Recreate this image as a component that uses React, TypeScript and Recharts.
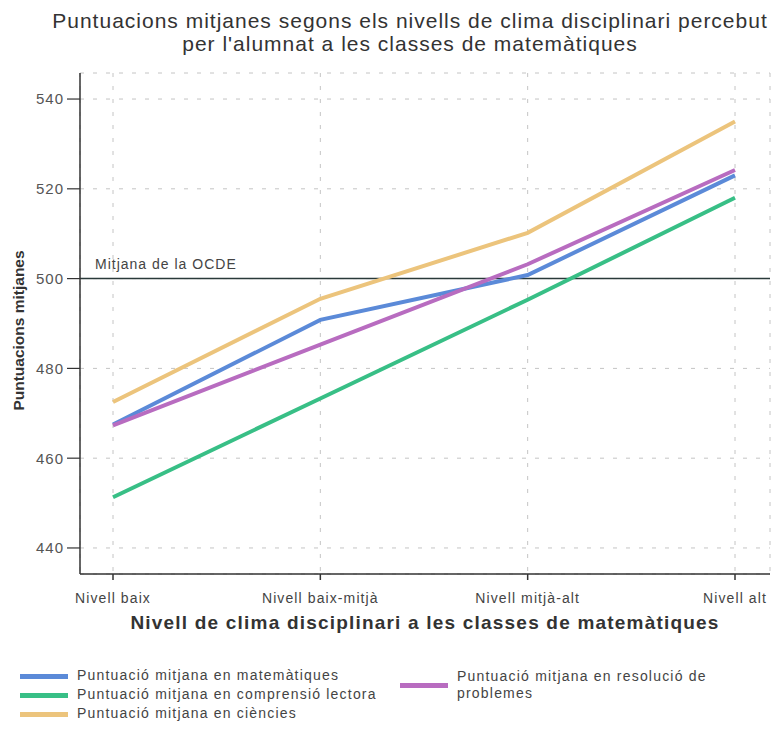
import { LineChart, Line, XAxis, YAxis, CartesianGrid, ReferenceLine, Label } from "recharts";

const nivells = ["Nivell baix", "Nivell baix-mitjà", "Nivell mitjà-alt", "Nivell alt"];
const matematiques = [467.5, 490.8, 500.8, 523];
const lectora = [451.3, 473.3, 495.3, 518];
const ciencies = [472.5, 495.5, 510.2, 535];
const problemes = [467.3, 485.3, 503.2, 524.2];
const yTicks = [440, 460, 480, 500, 520, 540];
const mitjanaOcde = 500;

const series = [
  { key: "ciencies", name: "Puntuació mitjana en ciències", color: "#ecc47c" },
  { key: "lectora", name: "Puntuació mitjana en comprensió lectora", color: "#38bf86" },
  { key: "matematiques", name: "Puntuació mitjana en matemàtiques", color: "#5b8ad8" },
  { key: "problemes", name: "Puntuació mitjana en resolució de problemes", color: "#b86cc0" },
];

const data = nivells.map((n, i) => ({
  nivell: n,
  matematiques: matematiques[i],
  lectora: lectora[i],
  ciencies: ciencies[i],
  problemes: problemes[i],
}));

const font = "'Liberation Sans', Arial, sans-serif";

function Swatch({ color }: { color: string }) {
  return <span style={{ display: "inline-block", width: 48, height: 5, background: color, marginRight: 9, verticalAlign: "middle" }} />;
}

export default function App() {
  const col = (k: string) => series.find((s) => s.key === k)!;
  return (
    <div style={{ position: "absolute", left: 0, top: 0, width: 774, height: 730, background: "#fff", fontFamily: font }}>
      <div style={{ position: "absolute", left: 10, width: 800, top: 9, textAlign: "center", fontSize: 21, lineHeight: "23px", letterSpacing: 1, color: "#333" }}>
        Puntuacions mitjanes segons els nivells de clima disciplinari percebut
        <br />
        per l'alumnat a les classes de matemàtiques
      </div>
      <div style={{ position: "absolute", left: 0, top: 0 }}>
        <LineChart width={774} height={730} data={data} margin={{ top: 73, right: 4, bottom: 126, left: 0 }}>
          <CartesianGrid stroke="#c4c4c4" strokeDasharray="4 9" />
          <XAxis
            dataKey="nivell"
            padding={{ left: 33, right: 35 }}
            height={30}
            tickSize={6}
            tickMargin={13}
            tick={{ fontSize: 14, fill: "#444", fontFamily: font, letterSpacing: 1.1 }}
            axisLine={{ stroke: "#333", strokeWidth: 1.5 }}
            tickLine={{ stroke: "#333", strokeWidth: 1.5 }}
            interval={0}
          />
          <XAxis xAxisId="top" orientation="top" dataKey="nivell" height={0} tick={false} tickLine={false} axisLine={{ stroke: "#333", strokeWidth: 1.5 }} />
          <YAxis
            domain={[434.2, 545.8]}
            ticks={yTicks}
            width={80}
            tickSize={13}
            tickMargin={3}
            tick={{ fontSize: 15, fill: "#555", fontFamily: font, letterSpacing: 1 }}
            axisLine={{ stroke: "#333", strokeWidth: 1.5 }}
            tickLine={{ stroke: "#333", strokeWidth: 1.2 }}
          >
            <Label
              content={({ viewBox }: any) => (
                <text
                  x={18}
                  y={viewBox.y + viewBox.height / 2 + 7}
                  transform={`rotate(-90 18 ${viewBox.y + viewBox.height / 2 + 7})`}
                  textAnchor="middle"
                  dominantBaseline="central"
                  style={{ fontSize: 15.5, fontWeight: "bold", fill: "#333", fontFamily: font }}
                >
                  Puntuacions mitjanes
                </text>
              )}
            />
          </YAxis>
          <YAxis yAxisId="right" orientation="right" width={0} domain={[434.2, 545.8]} tick={false} tickLine={false} axisLine={{ stroke: "#333", strokeWidth: 1.5 }} />
          <ReferenceLine
            y={mitjanaOcde}
            stroke="#2a3a3a"
            strokeWidth={1.5}
            label={{ value: "Mitjana de la OCDE", position: "insideBottomLeft", offset: 10, dx: 5, fontSize: 14, fill: "#444", fontFamily: font, letterSpacing: 1 }}
          />
          {series.map((s) => (
            <Line key={s.key} type="linear" dataKey={s.key} name={s.name} stroke={s.color} strokeWidth={4} dot={false} isAnimationActive={false} />
          ))}
        </LineChart>
      </div>
      <div style={{ position: "absolute", left: 425 - 400, width: 800, top: 612, textAlign: "center", fontSize: 19, fontWeight: "bold", letterSpacing: 1.2, color: "#333" }}>
        Nivell de clima disciplinari a les classes de matemàtiques
      </div>
      <div style={{ position: "absolute", left: 20, top: 666, fontSize: 14, letterSpacing: 1.2, color: "#444", lineHeight: "19px", whiteSpace: "nowrap" }}>
        <div><Swatch color={col("matematiques").color} />{col("matematiques").name}</div>
        <div><Swatch color={col("lectora").color} />{col("lectora").name}</div>
        <div><Swatch color={col("ciencies").color} />{col("ciencies").name}</div>
      </div>
      <div style={{ position: "absolute", left: 400, top: 668, fontSize: 14, letterSpacing: 1.2, color: "#444", lineHeight: "17px", display: "flex", alignItems: "center", whiteSpace: "nowrap" }}>
        <Swatch color={col("problemes").color} />
        <span>
          Puntuació mitjana en resolució de
          <br />
          problemes
        </span>
      </div>
    </div>
  );
}
